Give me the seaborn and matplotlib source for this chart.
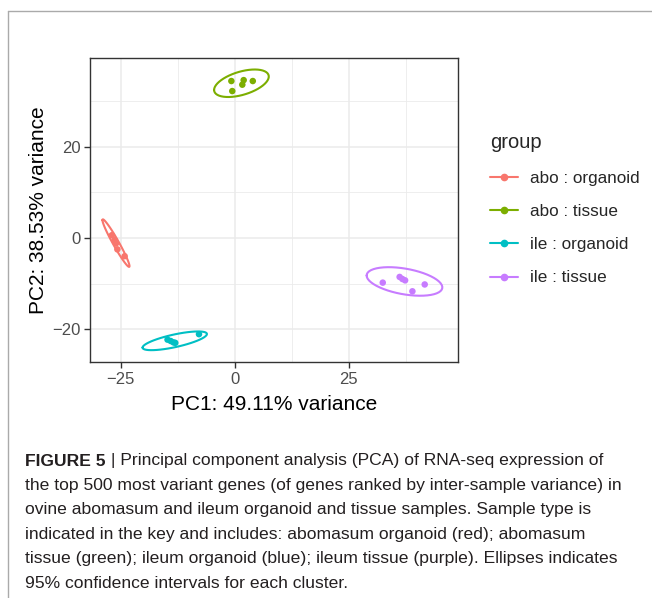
import numpy as np
import pandas as pd
import matplotlib
matplotlib.use("Agg")
import matplotlib.pyplot as plt
from matplotlib.lines import Line2D
import seaborn as sns

# PCA scores
abo_org_pc1 = [-26.9, -26.3, -26.0, -25.7, -24.1]
abo_org_pc2 = [0.6, -0.5, -1.2, -2.5, -4.0]
abo_tis_pc1 = [-0.7, -0.5, 1.7, 2.0, 4.0]
abo_tis_pc2 = [34.4, 32.2, 33.6, 34.6, 34.4]
ile_org_pc1 = [-14.7, -14.0, -13.4, -13.0, -7.8]
ile_org_pc2 = [-22.3, -22.6, -22.9, -23.0, -21.1]
ile_tis_pc1 = [32.5, 36.2, 36.8, 37.4, 39.0, 41.7]
ile_tis_pc2 = [-9.8, -8.55, -9.0, -9.3, -11.7, -10.2]

groups = ["abo : organoid", "abo : tissue", "ile : organoid", "ile : tissue"]
colors = ["#F8766D", "#7CAE00", "#00BFC4", "#C77CFF"]

x_ticks = [-25, 0, 25]
y_ticks = [-20, 0, 20]

caption_bold = "FIGURE 5"
caption_lines = [
    " | Principal component analysis (PCA) of RNA-seq expression of",
    "the top 500 most variant genes (of genes ranked by inter-sample variance) in",
    "ovine abomasum and ileum organoid and tissue samples. Sample type is",
    "indicated in the key and includes: abomasum organoid (red); abomasum",
    "tissue (green); ileum organoid (blue); ileum tissue (purple). Ellipses indicates",
    "95% confidence intervals for each cluster.",
]

pc1 = [abo_org_pc1, abo_tis_pc1, ile_org_pc1, ile_tis_pc1]
pc2 = [abo_org_pc2, abo_tis_pc2, ile_org_pc2, ile_tis_pc2]
df = pd.concat([pd.DataFrame({"PC1": a, "PC2": b, "group": g})
                for a, b, g in zip(pc1, pc2, groups)], ignore_index=True)


def cov_trob(xy, nu=5, maxit=25, tol=0.01):
    # port of MASS::cov.trob, as used by ggplot2's stat_ellipse
    n, p = xy.shape
    wt = np.ones(n)
    loc = xy.mean(axis=0)
    w = np.sqrt(wt)
    for _ in range(maxit):
        w0 = w
        X = xy - loc
        _, d, vt = np.linalg.svd(np.sqrt(w / w.sum())[:, None] * X, full_matrices=False)
        wX = X @ vt.T @ np.diag(1 / d)
        Q = (wX ** 2).sum(axis=1)
        w = wt * (nu + p) / (nu + Q)
        loc = (w[:, None] * xy).sum(axis=0) / w.sum()
        if np.all(np.abs(w - w0) < tol):
            break
    sX = np.sqrt(w)[:, None] * X
    return loc, sX.T @ sX / wt.sum()


def ellipse(xy, level=0.95, segments=51):
    center, shape = cov_trob(xy)
    dfd = len(xy) - 1
    # F(2, dfd) quantile in closed form
    qf = dfd / 2 * ((1 - level) ** (-2 / dfd) - 1)
    radius = np.sqrt(2 * qf)
    a = np.linspace(-np.pi, np.pi, segments + 1)
    circle = np.column_stack([np.cos(a), np.sin(a)])
    U = np.linalg.cholesky(shape).T
    return center + radius * circle @ U


sns.set_theme(style="whitegrid")
plt.rcParams["font.family"] = ["Liberation Sans", "DejaVu Sans"]

fig = plt.figure(figsize=(6.52, 5.98), dpi=100)
ax = fig.add_axes([90 / 652, 1 - 362 / 598, 368 / 652, 304 / 598])

sns.scatterplot(data=df, x="PC1", y="PC2", hue="group", palette=colors,
                s=22, linewidth=0, legend=False, ax=ax, zorder=3)
for g, c in zip(groups, colors):
    pts = df.loc[df["group"] == g, ["PC1", "PC2"]].to_numpy()
    e = ellipse(pts)
    ax.plot(e[:, 0], e[:, 1], color=c, lw=1.5, zorder=2)

ax.set_xlim(-31.7, 49.0)
ax.set_ylim(-27.2, 39.45)
ax.set_xticks(x_ticks)
ax.set_yticks(y_ticks)
ax.set_xticks([-12.5, 12.5, 37.5], minor=True)
ax.set_yticks([-10, 10, 30], minor=True)
ax.grid(which="major", color="#EBEBEB", lw=1.1)
ax.grid(which="minor", color="#EBEBEB", lw=0.6)
ax.set_facecolor("white")
for sp in ax.spines.values():
    sp.set_color("#333333")
    sp.set_linewidth(1.0)
ax.tick_params(axis="both", which="major", length=4, width=1, color="#333333",
               labelcolor="#4D4D4D", labelsize=12, pad=3, bottom=True, left=True)
ax.tick_params(which="minor", length=0)
ax.set_xlabel("PC1: 49.11% variance", fontsize=15, color="black", labelpad=6)
ax.set_ylabel("PC2: 38.53% variance", fontsize=15, color="black", labelpad=3)

handles = [Line2D([0], [0], color=c, lw=1.5, marker="o", markersize=4.5) for c in colors]
ax.legend(handles, groups, title="group", loc="upper left",
          bbox_to_anchor=(475 / 652, 1 - 118 / 598), bbox_transform=fig.transFigure,
          frameon=False, fontsize=12.3, title_fontsize=14.5, handlelength=1.6,
          labelspacing=1.07, handletextpad=0.7, alignment="left")

# caption below the figure
cap_size = 12.6
y0 = 1 - 461 / 598
step = 24.4 / 598
t = fig.text(25 / 652, y0, caption_bold, fontsize=cap_size, fontweight="bold",
             color="#231F20", va="center", ha="left")
fig.canvas.draw()
bb = t.get_window_extent(renderer=fig.canvas.get_renderer())
fig.text(bb.x1 / fig.bbox.width, y0, caption_lines[0], fontsize=cap_size,
         color="#231F20", va="center", ha="left")
for i, line in enumerate(caption_lines[1:], start=1):
    fig.text(25 / 652, y0 - i * step, line, fontsize=cap_size, color="#231F20",
             va="center", ha="left")

# card frame on the top and left
fig.add_artist(Line2D([8 / 652, 1], [1 - 11 / 598] * 2, color="#AAAAAA", lw=1))
fig.add_artist(Line2D([8 / 652] * 2, [0, 1 - 11 / 598], color="#AAAAAA", lw=1))

fig.savefig("out.png", dpi=100)
